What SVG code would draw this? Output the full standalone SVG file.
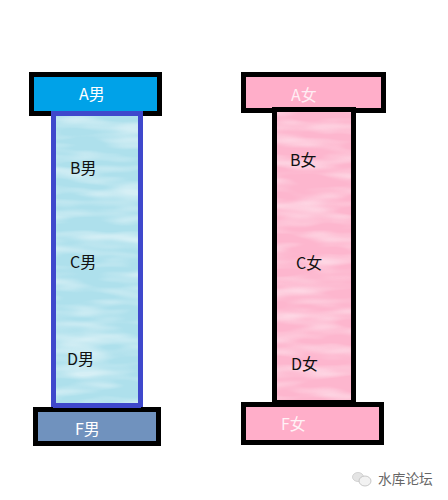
<svg xmlns="http://www.w3.org/2000/svg" width="448" height="500" viewBox="0 0 448 500">
<style>
.plate{stroke:#000;stroke-width:5}
text{font-family:"Noto Sans CJK SC","Liberation Sans",sans-serif;font-size:16px}
.w{fill:#fff}
.d{fill:#111}
</style>
<defs>
<filter id="streak" x="0" y="0" width="100%" height="100%">
<feTurbulence type="fractalNoise" baseFrequency="0.018 0.09" numOctaves="2" seed="11"/>
<feColorMatrix type="matrix" values="0 0 0 0 1  0 0 0 0 1  0 0 0 0 1  2.2 0 0 0 -0.85"/>
<feGaussianBlur stdDeviation="1.500 0.500"/>
</filter>
</defs>
<rect width="448" height="500" fill="#fff"/>
<g id="male-column">
<rect x="53.500" y="113.500" width="87" height="292" fill="#aee0ec"/>
<rect x="53.500" y="113.500" width="87" height="292" filter="url(#streak)" opacity="0.5"/>
</g>
<g id="A-male">
<rect class="plate" x="31.500" y="74.500" width="128" height="39" fill="#00a2e8"/>
<text class="w" x="79" y="100">A男</text>
</g>
<g id="male-column-frame">
<rect x="53.500" y="113.500" width="87" height="292" fill="none" stroke="#3f48cc" stroke-width="5"/>
<text class="d" x="70" y="174">B男</text>
<text class="d" x="70" y="268">C男</text>
<text class="d" x="67" y="365">D男</text>
</g>
<g id="F-male">
<rect class="plate" x="35.500" y="409.500" width="123" height="34" fill="#7092be"/>
<rect x="53" y="405" width="88" height="3" fill="#3f48cc"/>
<text class="w" x="75" y="435">F男</text>
</g>
<g id="A-female">
<rect class="plate" x="243.500" y="74.500" width="140" height="36" fill="#ffaec9"/>
<text x="291" y="101" fill="#fff" fill-opacity="0.8">A女</text>
</g>
<g id="female-column">
<rect x="274.500" y="109.500" width="79" height="293" fill="#fdb6ce"/>
<rect x="274.500" y="109.500" width="79" height="293" filter="url(#streak)" opacity="0.5"/>
<rect x="274.500" y="109.500" width="79" height="293" fill="none" stroke="#000" stroke-width="5"/>
<text class="d" x="290" y="166">B女</text>
<text class="d" x="296" y="269">C女</text>
<text class="d" x="291" y="370">D女</text>
</g>
<g id="F-female">
<rect class="plate" x="243.500" y="404.500" width="138" height="38" fill="#ffaec9"/>
<text x="281" y="430" fill="#fff" fill-opacity="0.85">F女</text>
</g>
<g id="watermark">
<ellipse cx="358" cy="477" rx="5.500" ry="4.500" fill="#e4e4e4" stroke="#ccc" stroke-width="0.800"/>
<ellipse cx="365" cy="481" rx="6" ry="5" fill="#f2f2f2" stroke="#bbb" stroke-width="0.800"/>
<text x="378" y="484" fill="#666" style="font-size:13.700px">水库论坛</text>
</g>
</svg>
